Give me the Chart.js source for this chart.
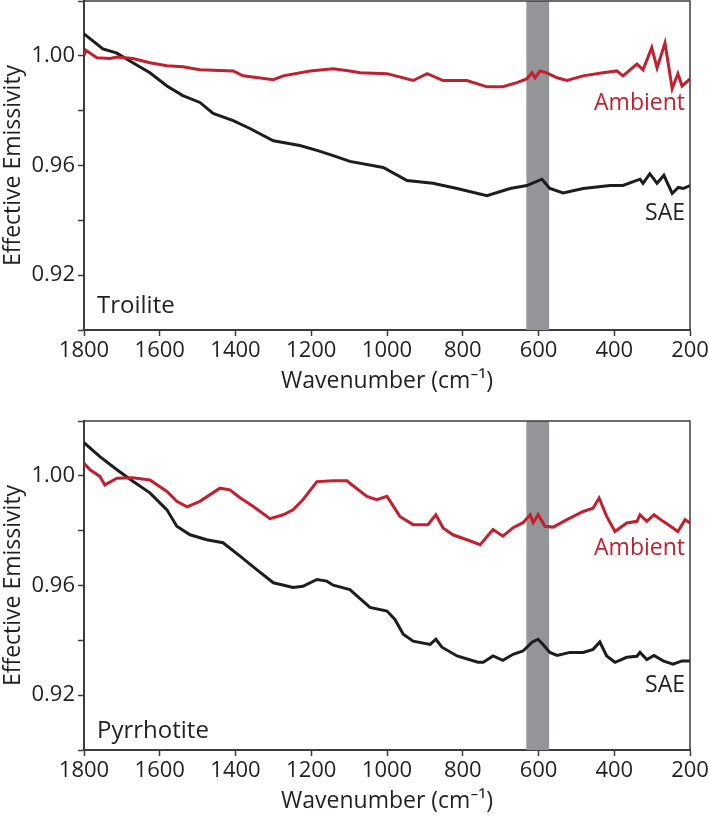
<!DOCTYPE html>
<html>
<head>
<meta charset="utf-8">
<script src="https://cdn.jsdelivr.net/npm/chart.js@4.4.0/dist/chart.umd.min.js"></script>
<style>
  html, body { margin: 0; padding: 0; background: #ffffff; overflow: hidden; }
  .wrap { position: absolute; left: 0; width: 709px; }
  #w1 { top: 0; height: 410px; }
  #w2 { top: 420px; height: 400px; }
</style>
</head>
<body>
<div class="wrap" id="w1"><canvas id="c1" width="709" height="410"></canvas></div>
<div class="wrap" id="w2"><canvas id="c2" width="709" height="400"></canvas></div>
<script>
// ---------- Data ----------
const xTicks = [1800, 1600, 1400, 1200, 1000, 800, 600, 400, 200];
const yTickLabels = ["1.00", "0.96", "0.92"];

// Troilite – SAE (black)
const troiliteSaeWn  = [1800, 1750, 1713, 1671, 1626, 1581, 1539, 1494, 1459, 1406, 1362, 1300, 1230, 1185, 1142, 1098, 1010, 947, 879, 815, 736, 675, 631, 591, 570, 535, 482, 411, 377, 332, 324, 306, 287, 269, 247, 231, 218, 200];
const troiliteSaeVal = [1.008, 1.0025, 1.001, 0.9975, 0.9938, 0.989, 0.9855, 0.983, 0.979, 0.9764, 0.9735, 0.969, 0.9673, 0.9655, 0.9636, 0.9615, 0.9593, 0.9545, 0.9535, 0.9516, 0.949, 0.9516, 0.9527, 0.955, 0.9516, 0.950, 0.9516, 0.9527, 0.9527, 0.955, 0.9535, 0.957, 0.9535, 0.9564, 0.9498, 0.952, 0.9516, 0.9527];

// Troilite – Ambient (red)
const troiliteAmbWn  = [1800, 1795, 1766, 1731, 1713, 1671, 1626, 1581, 1539, 1494, 1406, 1380, 1300, 1274, 1203, 1142, 1098, 1071, 1000, 931, 894, 852, 789, 736, 694, 657, 631, 617, 609, 596, 578, 551, 525, 482, 430, 393, 377, 340, 324, 301, 287, 266, 247, 232, 221, 200];
const troiliteAmbVal = [1.000, 1.002, 0.9993, 0.999, 0.9996, 0.999, 0.9975, 0.9964, 0.996, 0.9949, 0.9945, 0.9927, 0.9913, 0.9927, 0.9945, 0.9953, 0.9945, 0.9938, 0.9935, 0.991, 0.9935, 0.991, 0.991, 0.9887, 0.9887, 0.9902, 0.9916, 0.9938, 0.992, 0.9945, 0.9938, 0.992, 0.991, 0.9927, 0.9938, 0.9945, 0.9927, 0.997, 0.9949, 1.003, 0.9956, 1.0047, 0.988, 0.9935, 0.989, 0.9916];

// Pyrrhotite – SAE (black)
const pyrrhotiteSaeWn  = [1800, 1758, 1713, 1671, 1626, 1581, 1555, 1520, 1476, 1433, 1388, 1344, 1300, 1248, 1222, 1185, 1159, 1142, 1098, 1045, 1000, 979, 957, 931, 886, 871, 855, 815, 760, 746, 720, 694, 667, 641, 617, 601, 588, 570, 551, 517, 482, 456, 438, 420, 398, 367, 340, 332, 314, 295, 271, 245, 221, 200];
const pyrrhotiteSaeVal = [1.0121, 1.007, 1.0022, 0.998, 0.9938, 0.9876, 0.9816, 0.9785, 0.9767, 0.9756, 0.9707, 0.9658, 0.961, 0.9593, 0.9597, 0.9622, 0.9616, 0.9601, 0.9585, 0.952, 0.9507, 0.9476, 0.9422, 0.9397, 0.9385, 0.9404, 0.9375, 0.9343, 0.932, 0.932, 0.9343, 0.9327, 0.9349, 0.9361, 0.9393, 0.9404, 0.9385, 0.9356, 0.9345, 0.9356, 0.9356, 0.9367, 0.9394, 0.9343, 0.932, 0.9338, 0.9342, 0.9356, 0.933, 0.9345, 0.9325, 0.9313, 0.9325, 0.9325];

// Pyrrhotite – Ambient (red)
const pyrrhotiteAmbWn  = [1800, 1784, 1758, 1745, 1713, 1671, 1626, 1581, 1555, 1528, 1494, 1441, 1415, 1388, 1353, 1309, 1274, 1248, 1222, 1185, 1142, 1106, 1098, 1053, 1027, 1000, 966, 931, 892, 871, 852, 826, 789, 754, 720, 694, 667, 641, 622, 614, 601, 583, 561, 525, 482, 456, 440, 420, 398, 367, 340, 332, 314, 295, 271, 245, 232, 213, 200];
const pyrrhotiteAmbVal = [1.0046, 1.0022, 0.9998, 0.9967, 0.9991, 0.9993, 0.9985, 0.9943, 0.9907, 0.9887, 0.9907, 0.9955, 0.9949, 0.992, 0.9888, 0.9844, 0.9858, 0.9876, 0.9913, 0.9979, 0.9982, 0.9982, 0.9973, 0.9925, 0.9913, 0.9925, 0.9852, 0.9822, 0.9822, 0.9858, 0.981, 0.9785, 0.9767, 0.9749, 0.9804, 0.978, 0.9811, 0.9829, 0.9858, 0.9829, 0.9858, 0.9816, 0.9813, 0.984, 0.987, 0.9882, 0.9919, 0.9852, 0.9797, 0.9828, 0.9834, 0.9858, 0.9834, 0.9858, 0.9834, 0.981, 0.9797, 0.984, 0.9828];

// Shaded band (wavenumber range)
const bandRange = [632, 572];

// ---------- Styling ----------
const FONT = "'Open Sans', 'Noto Sans', sans-serif";
const RED = "#c1202f";
const BLACK = "#1f1c1d";
const AXIS = "#3c3c3c";
const BAND = "#939598";

function pts(wn, val) { return wn.map((w, i) => ({ x: w, y: val[i] })); }

const bandPlugin = {
  id: 'band',
  beforeDatasetsDraw(chart) {
    const { ctx, chartArea, scales } = chart;
    const x1 = scales.x.getPixelForValue(bandRange[0]);
    const x2 = scales.x.getPixelForValue(bandRange[1]);
    ctx.save();
    ctx.fillStyle = BAND;
    ctx.fillRect(Math.min(x1, x2), chartArea.top, Math.abs(x2 - x1), chartArea.bottom - chartArea.top);
    ctx.restore();
  }
};

const framePlugin = {
  id: 'frame',
  afterDatasetsDraw(chart) {
    const { ctx, chartArea } = chart;
    ctx.save();
    ctx.strokeStyle = AXIS;
    ctx.lineWidth = 1.5;
    ctx.beginPath();
    ctx.moveTo(chartArea.left, chartArea.top);
    ctx.lineTo(chartArea.right, chartArea.top);
    ctx.lineTo(chartArea.right, chartArea.bottom);
    ctx.stroke();
    ctx.restore();
  }
};

const labelsPlugin = {
  id: 'textLabels',
  afterDraw(chart, args, opts) {
    const { ctx, chartArea } = chart;
    ctx.save();
    ctx.textBaseline = 'alphabetic';
    (opts.items || []).forEach(it => {
      ctx.font = it.size + "px " + FONT;
      ctx.fillStyle = it.color;
      ctx.textAlign = it.align;
      const x = it.align === 'right' ? chartArea.right - it.dx : chartArea.left + it.dx;
      ctx.fillText(it.text, x, chartArea.top + it.dy);
    });
    ctx.restore();
  }
};

function makeChart(id, saePts, ambPts, sampleName, axisH, titlePad, ambDy, saeDy, nameDy) {
  return new Chart(document.getElementById(id), {
    type: 'line',
    data: {
      datasets: [
        { label: 'Ambient', data: ambPts, borderColor: RED, borderWidth: 3, pointRadius: 0, tension: 0, fill: false },
        { label: 'SAE', data: saePts, borderColor: BLACK, borderWidth: 3, pointRadius: 0, tension: 0, fill: false }
      ]
    },
    options: {
      responsive: false,
      animation: false,
      events: [],
      layout: { padding: { top: 1, right: 19, left: 0, bottom: 0 } },
      plugins: {
        legend: { display: false },
        tooltip: { enabled: false },
        textLabels: {
          items: [
            { text: sampleName, size: 24, color: '#231f20', align: 'left', dx: 13, dy: nameDy },
            { text: 'Ambient', size: 23, color: RED, align: 'right', dx: 5, dy: ambDy },
            { text: 'SAE', size: 23, color: '#231f20', align: 'right', dx: 5, dy: saeDy }
          ]
        }
      },
      scales: {
        x: {
          type: 'linear',
          reverse: true,
          min: 200,
          max: 1800,
          afterFit(s) { s.height = axisH; s.paddingLeft = 0; s.paddingRight = 0; },
          afterBuildTicks(s) { s.ticks = xTicks.map(v => ({ value: v })); },
          ticks: {
            autoSkip: false,
            maxRotation: 0,
            padding: 2,
            color: '#231f20',
            font: { family: FONT, size: 22 },
            callback: v => String(v)
          },
          grid: { drawOnChartArea: false, drawTicks: true, tickLength: 6, tickWidth: 1.5, tickColor: AXIS },
          border: { display: true, color: AXIS, width: 2 },
          title: {
            display: true,
            text: 'Wavenumber (cm\u207B\u00B9)',
            color: '#231f20',
            font: { family: FONT, size: 23 },
            padding: { top: 0, bottom: titlePad }
          }
        },
        y: {
          type: 'linear',
          min: 0.90,
          max: 1.02,
          afterFit(s) { s.width = 84; s.paddingTop = 0; s.paddingBottom = 0; },
          ticks: {
            stepSize: 0.02,
            padding: 3,
            color: '#231f20',
            font: { family: FONT, size: 22 },
            callback: v => {
              const s = v.toFixed(2);
              return yTickLabels.includes(s) ? s : '';
            }
          },
          grid: { drawOnChartArea: false, drawTicks: true, tickLength: 6, tickWidth: 1.5, tickColor: AXIS },
          border: { display: true, color: AXIS, width: 2 },
          title: {
            display: true,
            text: 'Effective Emissivity',
            color: '#231f20',
            font: { family: FONT, size: 23 },
            padding: { top: 0, bottom: 0 }
          }
        }
      }
    },
    plugins: [bandPlugin, framePlugin, labelsPlugin]
  });
}

// Top: plot area 1..330 ; bottom: plot area 421..750 (canvas starts at 420)
makeChart('c1', pts(troiliteSaeWn, troiliteSaeVal), pts(troiliteAmbWn, troiliteAmbVal), 'Troilite', 80, 15, 109, 219, 312);
makeChart('c2', pts(pyrrhotiteSaeWn, pyrrhotiteSaeVal), pts(pyrrhotiteAmbWn, pyrrhotiteAmbVal), 'Pyrrhotite', 70, 5, 134, 271, 317);
</script>
</body>
</html>
